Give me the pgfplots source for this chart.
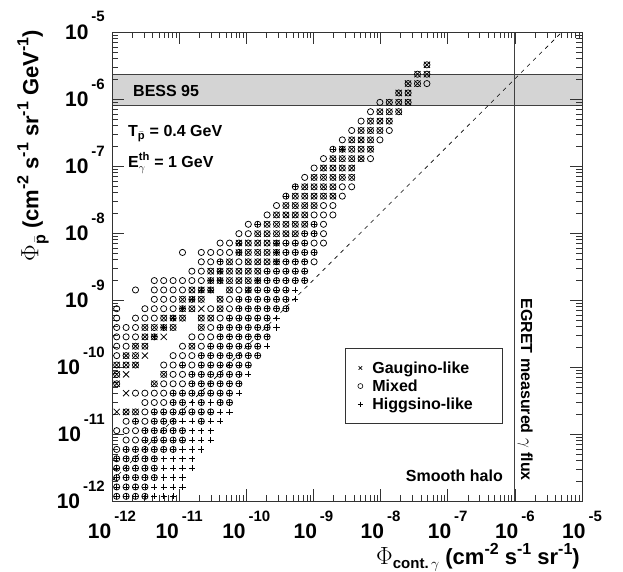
\documentclass[border=0pt]{standalone}
\usepackage{amsmath}
\usepackage{fontspec}
\setmainfont{Liberation Sans}
\usepackage{pgfplots}
\usepackage{pgfplotstable}
\pgfplotsset{compat=1.18}

\newcommand{\fs}[1]{\fontsize{#1}{#1}\selectfont}
\newcommand{\tl}[1]{\mbox{\bfseries\fs{21}10\kern3pt\raisebox{17pt}{\fs{15}#1}}}

% cross reaching the corners of the marker box, as in the original
\pgfdeclareplotmark{X}{%
  \pgfpathmoveto{\pgfqpoint{-\pgfplotmarksize}{-\pgfplotmarksize}}%
  \pgfpathlineto{\pgfqpoint{\pgfplotmarksize}{\pgfplotmarksize}}%
  \pgfpathmoveto{\pgfqpoint{-\pgfplotmarksize}{\pgfplotmarksize}}%
  \pgfpathlineto{\pgfqpoint{\pgfplotmarksize}{-\pgfplotmarksize}}%
  \pgfusepathqstroke}
% overlapping classes: circle+cross, circle+plus, all three
\pgfdeclareplotmark{ox}{\pgfuseplotmark{o}\pgfuseplotmark{X}}
\pgfdeclareplotmark{op}{\pgfuseplotmark{o}\pgfuseplotmark{+}}
\pgfdeclareplotmark{oxp}{\pgfuseplotmark{o}\pgfuseplotmark{X}\pgfuseplotmark{+}}

% log10 of the cell centres, and which kinds of model fall in each cell
\pgfplotstableread{
x y c
-7.31 -5.49 mg
-7.45 -5.63 mg
-7.31 -5.63 mg
-7.59 -5.77 mg
-7.45 -5.77 mg
-7.31 -5.77 m
-7.73 -5.91 mg
-7.59 -5.91 mg
-8.01 -6.05 m
-7.87 -6.05 mg
-7.73 -6.05 mg
-7.59 -6.05 mg
-8.15 -6.19 m
-8.01 -6.19 mg
-7.87 -6.19 mg
-7.73 -6.19 mg
-8.29 -6.33 m
-8.15 -6.33 mg
-8.01 -6.33 mg
-7.87 -6.33 mg
-8.43 -6.47 m
-8.29 -6.47 mg
-8.15 -6.47 mg
-8.01 -6.47 mg
-7.87 -6.47 m
-8.57 -6.61 m
-8.43 -6.61 mg
-8.29 -6.61 mg
-8.15 -6.61 mg
-8.01 -6.61 m
-8.71 -6.75 mh
-8.57 -6.75 a
-8.43 -6.75 mg
-8.29 -6.75 mg
-8.15 -6.75 mg
-8.85 -6.89 m
-8.71 -6.89 mg
-8.57 -6.89 mg
-8.43 -6.89 mg
-8.29 -6.89 mg
-8.15 -6.89 m
-8.99 -7.03 m
-8.85 -7.03 mg
-8.71 -7.03 mg
-8.57 -7.03 mg
-8.43 -7.03 mg
-9.13 -7.17 m
-8.99 -7.17 mg
-8.85 -7.17 mg
-8.71 -7.17 mg
-8.57 -7.17 mg
-8.43 -7.17 mg
-9.27 -7.31 mh
-9.13 -7.31 mg
-8.99 -7.31 mg
-8.85 -7.31 mg
-8.71 -7.31 mg
-8.57 -7.31 m
-8.43 -7.31 m
-9.41 -7.45 mh
-9.27 -7.45 mg
-9.13 -7.45 mg
-8.99 -7.45 mg
-8.85 -7.45 mg
-8.71 -7.45 mg
-8.57 -7.45 m
-9.55 -7.59 m
-9.41 -7.59 mg
-9.27 -7.59 mg
-9.13 -7.59 mg
-8.99 -7.59 mg
-8.85 -7.59 m
-8.71 -7.59 m
-9.69 -7.73 m
-9.55 -7.73 mg
-9.41 -7.73 mg
-9.27 -7.73 mg
-9.13 -7.73 mg
-8.99 -7.73 m
-8.85 -7.73 m
-8.71 -7.73 m
-9.97 -7.87 m
-9.83 -7.87 mh
-9.69 -7.87 mg
-9.55 -7.87 mg
-9.41 -7.87 mg
-9.27 -7.87 mg
-9.13 -7.87 mg
-8.99 -7.87 mh
-8.85 -7.87 m
-10.11 -8.01 m
-9.97 -8.01 m
-9.83 -8.01 mg
-9.69 -8.01 mg
-9.55 -8.01 mg
-9.41 -8.01 mg
-9.27 -8.01 mg
-9.13 -8.01 mh
-8.99 -8.01 mh
-8.85 -8.01 m
-10.39 -8.15 m
-10.25 -8.15 m
-10.11 -8.15 a
-9.97 -8.15 mg
-9.83 -8.15 mg
-9.69 -8.15 mg
-9.55 -8.15 a
-9.41 -8.15 mh
-9.27 -8.15 mh
-9.13 -8.15 mh
-8.99 -8.15 m
-8.85 -8.15 m
-10.95 -8.29 m
-10.67 -8.29 m
-10.53 -8.29 m
-10.39 -8.29 m
-10.25 -8.29 m
-10.11 -8.29 a
-9.97 -8.29 mg
-9.83 -8.29 mg
-9.69 -8.29 mg
-9.55 -8.29 a
-9.41 -8.29 mh
-9.27 -8.29 mh
-9.13 -8.29 mh
-8.99 -8.29 mh
-10.67 -8.43 m
-10.53 -8.43 m
-10.39 -8.43 mh
-10.25 -8.43 mg
-10.11 -8.43 m
-9.97 -8.43 mg
-9.83 -8.43 mg
-9.69 -8.43 mg
-9.55 -8.43 a
-9.41 -8.43 mh
-9.27 -8.43 mh
-9.13 -8.43 mh
-8.99 -8.43 m
-10.81 -8.57 m
-10.67 -8.57 m
-10.53 -8.57 mg
-10.39 -8.57 a
-10.25 -8.57 mg
-10.11 -8.57 mg
-9.97 -8.57 mg
-9.83 -8.57 mg
-9.69 -8.57 mh
-9.55 -8.57 mh
-9.41 -8.57 mh
-9.27 -8.57 mh
-9.13 -8.57 mh
-11.37 -8.71 m
-11.23 -8.71 m
-11.09 -8.71 m
-10.95 -8.71 m
-10.81 -8.71 m
-10.67 -8.71 m
-10.53 -8.71 a
-10.39 -8.71 a
-10.25 -8.71 mg
-10.11 -8.71 mg
-9.97 -8.71 mg
-9.83 -8.71 a
-9.69 -8.71 mh
-9.55 -8.71 mh
-9.41 -8.71 mh
-9.27 -8.71 mh
-9.13 -8.71 mh
-11.65 -8.85 m
-11.37 -8.85 m
-11.23 -8.85 m
-11.09 -8.85 m
-10.95 -8.85 m
-10.81 -8.85 mg
-10.67 -8.85 a
-10.53 -8.85 a
-10.25 -8.85 mg
-10.11 -8.85 m
-9.97 -8.85 a
-9.83 -8.85 mh
-9.69 -8.85 mh
-9.55 -8.85 mh
-9.41 -8.85 mh
-9.27 -8.85 h
-11.37 -8.99 m
-11.23 -8.99 m
-11.09 -8.99 m
-10.95 -8.99 mg
-10.81 -8.99 a
-10.67 -8.99 mg
-10.39 -8.99 mg
-10.25 -8.99 m
-10.11 -8.99 mh
-9.97 -8.99 mh
-9.83 -8.99 mh
-9.69 -8.99 mh
-9.55 -8.99 mh
-9.41 -8.99 mh
-9.27 -8.99 h
-11.93 -9.13 m
-11.51 -9.13 m
-11.37 -9.13 m
-11.23 -9.13 m
-11.09 -9.13 m
-10.95 -9.13 a
-10.81 -9.13 mg
-10.67 -9.13 g
-10.53 -9.13 m
-10.39 -9.13 mg
-10.25 -9.13 m
-10.11 -9.13 mh
-9.97 -9.13 mh
-9.83 -9.13 mh
-9.69 -9.13 mh
-9.55 -9.13 mh
-9.41 -9.13 mh
-11.93 -9.27 m
-11.65 -9.27 m
-11.51 -9.27 m
-11.37 -9.27 m
-11.23 -9.27 mg
-11.09 -9.27 a
-10.95 -9.27 mg
-10.67 -9.27 mg
-10.53 -9.27 mg
-10.39 -9.27 m
-10.25 -9.27 mh
-10.11 -9.27 mh
-9.97 -9.27 mh
-9.83 -9.27 mh
-9.69 -9.27 mh
-9.55 -9.27 h
-11.93 -9.41 m
-11.79 -9.41 m
-11.65 -9.41 m
-11.51 -9.41 mg
-11.37 -9.41 mg
-11.23 -9.41 a
-11.09 -9.41 mg
-10.67 -9.41 mg
-10.53 -9.41 m
-10.39 -9.41 mh
-10.25 -9.41 mh
-10.11 -9.41 mh
-9.97 -9.41 mh
-9.83 -9.41 mh
-9.69 -9.41 mh
-9.55 -9.41 h
-11.93 -9.55 m
-11.79 -9.55 m
-11.65 -9.55 m
-11.51 -9.55 mg
-11.37 -9.55 a
-11.23 -9.55 g
-10.81 -9.55 m
-10.67 -9.55 m
-10.53 -9.55 m
-10.39 -9.55 mh
-10.25 -9.55 mh
-10.11 -9.55 mh
-9.97 -9.55 mh
-9.83 -9.55 mh
-9.69 -9.55 mh
-11.93 -9.69 m
-11.79 -9.69 m
-11.65 -9.69 mg
-11.51 -9.69 mg
-10.95 -9.69 m
-10.81 -9.69 mg
-10.67 -9.69 m
-10.53 -9.69 mh
-10.39 -9.69 mh
-10.25 -9.69 mh
-10.11 -9.69 mh
-9.97 -9.69 mh
-9.83 -9.69 mh
-9.69 -9.69 h
-11.93 -9.83 m
-11.79 -9.83 mg
-11.65 -9.83 mg
-11.51 -9.83 g
-11.09 -9.83 m
-10.95 -9.83 m
-10.81 -9.83 m
-10.67 -9.83 mh
-10.53 -9.83 mh
-10.39 -9.83 mh
-10.25 -9.83 mh
-10.11 -9.83 mh
-9.97 -9.83 mh
-9.83 -9.83 mh
-11.93 -9.97 mg
-11.79 -9.97 mg
-11.65 -9.97 mg
-11.23 -9.97 m
-11.09 -9.97 m
-10.95 -9.97 mh
-10.81 -9.97 m
-10.67 -9.97 mh
-10.53 -9.97 mh
-10.39 -9.97 mh
-10.25 -9.97 mh
-10.11 -9.97 mh
-9.97 -9.97 mh
-11.93 -10.11 mg
-11.79 -10.11 g
-11.23 -10.11 mg
-11.09 -10.11 m
-10.95 -10.11 m
-10.81 -10.11 mh
-10.67 -10.11 mh
-10.53 -10.11 mh
-10.39 -10.11 mh
-10.25 -10.11 mh
-10.11 -10.11 mh
-9.97 -10.11 h
-11.93 -10.25 mg
-11.37 -10.25 mg
-11.23 -10.25 m
-11.09 -10.25 m
-10.95 -10.25 m
-10.81 -10.25 mh
-10.67 -10.25 mh
-10.53 -10.25 mh
-10.39 -10.25 mh
-10.25 -10.25 mh
-10.11 -10.25 mh
-11.79 -10.39 g
-11.65 -10.39 m
-11.51 -10.39 m
-11.37 -10.39 m
-11.23 -10.39 m
-11.09 -10.39 mh
-10.95 -10.39 mh
-10.81 -10.39 mh
-10.67 -10.39 mh
-10.53 -10.39 mh
-10.39 -10.39 mh
-10.25 -10.39 mh
-10.11 -10.39 h
-11.51 -10.53 m
-11.37 -10.53 m
-11.23 -10.53 m
-11.09 -10.53 mh
-10.95 -10.53 mh
-10.81 -10.53 h
-10.67 -10.53 mh
-10.53 -10.53 h
-10.39 -10.53 mh
-10.25 -10.53 mh
-11.93 -10.67 g
-11.79 -10.67 mg
-11.65 -10.67 mg
-11.51 -10.67 m
-11.37 -10.67 mh
-11.23 -10.67 mh
-11.09 -10.67 mh
-10.95 -10.67 mh
-10.81 -10.67 mh
-10.67 -10.67 mh
-10.53 -10.67 mh
-10.39 -10.67 h
-10.25 -10.67 h
-11.79 -10.81 m
-11.65 -10.81 mh
-11.51 -10.81 m
-11.37 -10.81 mh
-11.23 -10.81 mh
-11.09 -10.81 mh
-10.95 -10.81 h
-10.81 -10.81 h
-10.67 -10.81 mh
-10.53 -10.81 h
-10.39 -10.81 h
-11.93 -10.95 m
-11.79 -10.95 m
-11.65 -10.95 m
-11.51 -10.95 mh
-11.37 -10.95 mh
-11.23 -10.95 mh
-11.09 -10.95 mh
-10.95 -10.95 mh
-10.81 -10.95 h
-10.67 -10.95 h
-10.53 -10.95 h
-11.79 -11.09 m
-11.65 -11.09 m
-11.51 -11.09 mh
-11.37 -11.09 mh
-11.23 -11.09 mh
-11.09 -11.09 mh
-10.95 -11.09 mh
-10.81 -11.09 h
-10.67 -11.09 h
-10.53 -11.09 h
-11.93 -11.23 m
-11.79 -11.23 mh
-11.65 -11.23 mh
-11.51 -11.23 mh
-11.37 -11.23 mh
-11.23 -11.23 mh
-11.09 -11.23 mh
-10.95 -11.23 h
-10.81 -11.23 h
-10.67 -11.23 h
-11.93 -11.37 mh
-11.79 -11.37 mh
-11.65 -11.37 mh
-11.51 -11.37 mh
-11.37 -11.37 mh
-11.23 -11.37 h
-11.09 -11.37 h
-10.95 -11.37 h
-10.81 -11.37 h
-11.93 -11.51 mh
-11.79 -11.51 mh
-11.65 -11.51 mh
-11.51 -11.51 mh
-11.37 -11.51 mh
-11.23 -11.51 h
-11.09 -11.51 h
-10.95 -11.51 h
-10.81 -11.51 h
-11.93 -11.65 mh
-11.79 -11.65 mh
-11.65 -11.65 mh
-11.51 -11.65 mh
-11.37 -11.65 mh
-11.23 -11.65 h
-11.09 -11.65 h
-10.95 -11.65 h
-11.93 -11.79 mh
-11.79 -11.79 mh
-11.65 -11.79 mh
-11.51 -11.79 mh
-11.37 -11.79 h
-11.23 -11.79 h
-11.09 -11.79 h
-10.95 -11.79 h
-11.93 -11.93 mh
-11.79 -11.93 mh
-11.65 -11.93 mh
-11.51 -11.93 mh
-11.37 -11.93 h
-11.23 -11.93 h
-11.09 -11.93 h
}\cells

\begin{document}
\begin{tikzpicture}
\begin{axis}[
    name=ax,
    scale only axis,
    width=470pt, height=469pt,
    xmin=-12, xmax=-5, ymin=-12, ymax=-5,
    clip=false,
    axis on top,
    xtick={-12,-11,-10,-9,-8,-7,-6,-5},
    ytick={-12,-11,-10,-9,-8,-7,-6,-5},
    xticklabels={\tl{-12},\tl{-11},\tl{-10},\tl{-9},\tl{-8},\tl{-7},\tl{-6},\tl{-5}},
    yticklabels={\tl{-12},\tl{-11},\tl{-10},\tl{-9},\tl{-8},\tl{-7},\tl{-6},\tl{-5}},
    minor xtick={-11.699,-11.523,-11.398,-11.301,-11.222,-11.155,-11.097,-11.046,
      -10.699,-10.523,-10.398,-10.301,-10.222,-10.155,-10.097,-10.046,
      -9.699,-9.523,-9.398,-9.301,-9.222,-9.155,-9.097,-9.046,
      -8.699,-8.523,-8.398,-8.301,-8.222,-8.155,-8.097,-8.046,
      -7.699,-7.523,-7.398,-7.301,-7.222,-7.155,-7.097,-7.046,
      -6.699,-6.523,-6.398,-6.301,-6.222,-6.155,-6.097,-6.046,
      -5.699,-5.523,-5.398,-5.301,-5.222,-5.155,-5.097,-5.046},
    minor ytick={-11.699,-11.523,-11.398,-11.301,-11.222,-11.155,-11.097,-11.046,
      -10.699,-10.523,-10.398,-10.301,-10.222,-10.155,-10.097,-10.046,
      -9.699,-9.523,-9.398,-9.301,-9.222,-9.155,-9.097,-9.046,
      -8.699,-8.523,-8.398,-8.301,-8.222,-8.155,-8.097,-8.046,
      -7.699,-7.523,-7.398,-7.301,-7.222,-7.155,-7.097,-7.046,
      -6.699,-6.523,-6.398,-6.301,-6.222,-6.155,-6.097,-6.046,
      -5.699,-5.523,-5.398,-5.301,-5.222,-5.155,-5.097,-5.046},
    tick align=inside,
    major tick length=12pt,
    minor tick length=6pt,
    tick style={black!80, line width=0.6pt},
    axis line style={black!80, line width=0.8pt},
    xticklabel style={anchor=base, yshift=-37pt, inner sep=0pt},
    yticklabel style={anchor=base east, xshift=-7pt, yshift=-7pt, inner sep=0pt},
    legend style={at={(0.4957,0.3262)}, anchor=north west, draw=black!80,
      line width=0.8pt, font=\fs{16}\bfseries, inner xsep=4pt, inner ysep=13pt,
      row sep=5pt, nodes={inner sep=0pt}},
    legend cell align=left,
]
% BESS 95 band
\addplot[draw=none, fill=black!17, forget plot] coordinates {
  (-12,-6.094) (-5,-6.094) (-5,-5.637) (-12,-5.637) (-12,-6.094)};
\addplot[black!75, line width=0.8pt, forget plot] coordinates {(-12,-6.094) (-5,-6.094)};
\addplot[black!75, line width=0.8pt, forget plot] coordinates {(-12,-5.637) (-5,-5.637)};

\addplot[scatter, only marks, forget plot, scatter src=explicit symbolic,
  mark size=3.1pt, line width=0.75pt, black,
  scatter/classes={
    m={mark=o, black}, g={mark=X, black}, h={mark=+, black},
    mg={mark=ox, black}, mh={mark=op, black}, a={mark=oxp, black}}]
  table[x=x, y=y, meta=c] {\cells};

% Phi_pbar = 2 Phi_gamma
\addplot[black, line width=0.6pt, dash pattern=on 4pt off 4.5pt, forget plot]
  coordinates {(-12,-11.7) (-5.3,-5)};
% EGRET measured flux
\addplot[black!75, line width=0.8pt, forget plot] coordinates {(-6,-12) (-6,-5)};

\addlegendimage{legend image code/.code={
  \draw[black, line width=0.6pt] plot[only marks, mark=x, mark size=2.5pt] coordinates {(0pt,0pt)};
  \path[draw=none, fill=none] (-11pt,0pt) -- (12pt,0pt);}}
\addlegendentry{\strut Gaugino-like}
\addlegendimage{legend image code/.code={
  \draw[black, line width=0.6pt] plot[only marks, mark=o, mark size=2.5pt] coordinates {(0pt,0pt)};
  \path[draw=none, fill=none] (-11pt,0pt) -- (12pt,0pt);}}
\addlegendentry{\strut Mixed}
\addlegendimage{legend image code/.code={
  \draw[black, line width=0.6pt] plot[only marks, mark=+, mark size=2.5pt] coordinates {(0pt,0pt)};
  \path[draw=none, fill=none] (-11pt,0pt) -- (12pt,0pt);}}
\addlegendentry{\strut Higgsino-like\hspace*{26pt}}

\node[anchor=base west, inner sep=0pt, font=\fs{16}\bfseries] at (axis cs:-11.687,-5.970) {BESS 95};
\node[anchor=base west, inner sep=0pt, font=\fs{16}\bfseries] at (axis cs:-11.762,-6.567)
  {T$_{\bar{\text{p}}}$ = 0.4 GeV};
\node[anchor=base west, inner sep=0pt, font=\fs{16}\bfseries] at (axis cs:-11.762,-7.015)
  {E$^{\text{th}}_{\gamma}$ = 1 GeV};
\node[anchor=base east, inner sep=0pt, font=\fs{16}\bfseries] at (axis cs:-6.176,-11.716) {Smooth halo};
\node[rotate=-90, anchor=base east, inner sep=0pt, font=\fs{16}\bfseries] at (axis cs:-5.908,-11.701)
  {EGRET measured $\gamma$ flux};

% axis titles
\node[anchor=base east, inner sep=0pt] at (rel axis cs:0.9957,-0.1343)
  {\fs{24}$\Phi$\raisebox{-4pt}{\fs{15}\bfseries cont.\,$\gamma$}\fs{22}\bfseries\ (cm\raisebox{9pt}{\fs{16}-2} s\raisebox{9pt}{\fs{16}-1} sr\raisebox{9pt}{\fs{16}-1})};
\node[rotate=90, anchor=base east, inner sep=0pt] at (rel axis cs:-0.1564,1.0043)
  {\fs{24}$\Phi$\raisebox{-7pt}{\fs{16}\bfseries$\bar{\text{p}}$}\fs{22}\bfseries\ (cm\raisebox{10pt}{\fs{16}-2} s\raisebox{10pt}{\fs{16}-1} sr\raisebox{10pt}{\fs{16}-1} GeV\raisebox{10pt}{\fs{16}-1})};
\end{axis}
\pgfresetboundingbox
\path ([xshift=-112pt,yshift=-70pt]ax.south west) rectangle ([xshift=41pt,yshift=32pt]ax.north east);
\end{tikzpicture}
\end{document}
